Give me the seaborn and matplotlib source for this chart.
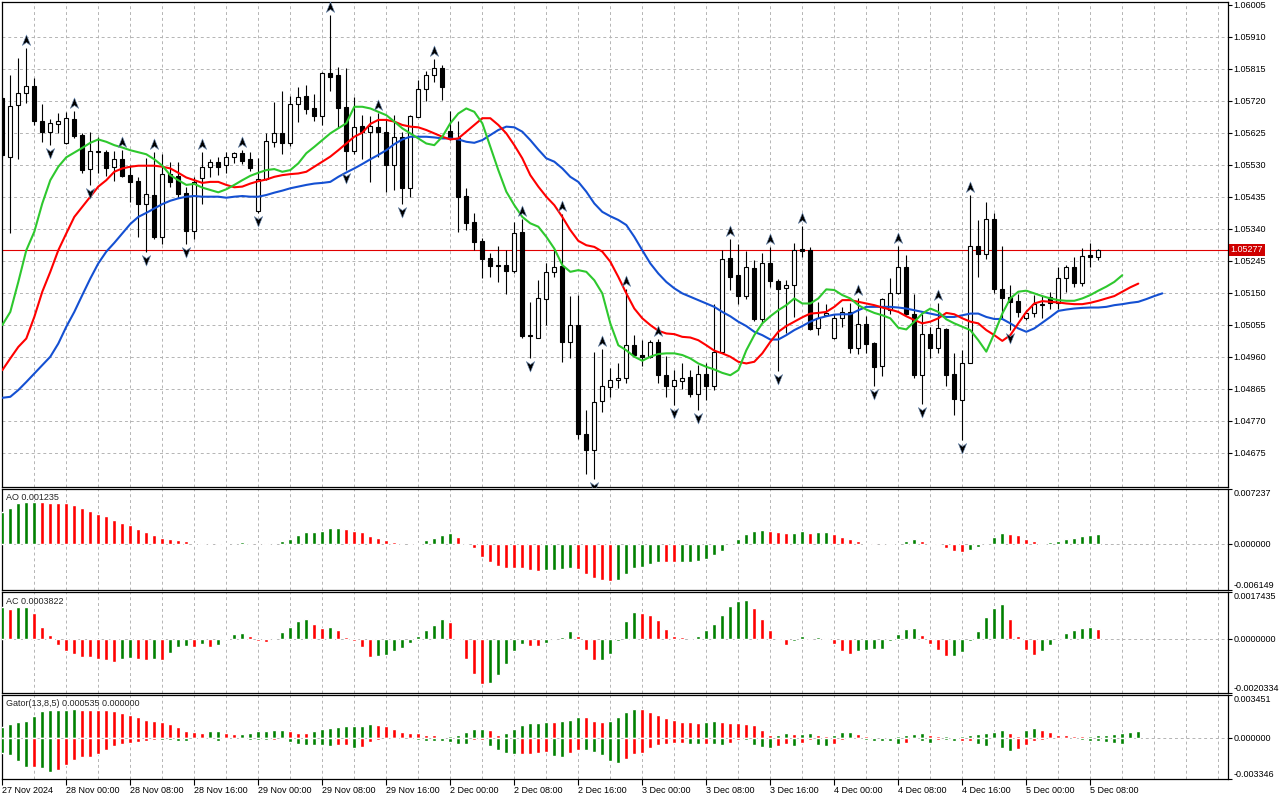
import numpy as np
import matplotlib
matplotlib.use("Agg")
import matplotlib.pyplot as plt
import matplotlib.transforms as mtransforms
from matplotlib.path import Path
import seaborn as sns

# ---- H1 candles, 27 Nov 16:00 .. 5 Dec 09:00 ----
open_ = [1.05727, 1.05554, 1.05706, 1.05742, 1.05764, 1.05660, 1.05626, 1.05650, 1.05595, 1.05666,
         1.05618, 1.05516, 1.05571, 1.05568, 1.05522, 1.05547, 1.05499, 1.05481, 1.05412, 1.05440,
         1.05316, 1.05502, 1.05496, 1.05447, 1.05334, 1.05491, 1.05522, 1.05537, 1.05528, 1.05552,
         1.05564, 1.05547, 1.05393, 1.05489, 1.05598, 1.05625, 1.05595, 1.05709, 1.05735, 1.05697,
         1.05675, 1.05802, 1.05796, 1.05700, 1.05572, 1.05645, 1.05626, 1.05643, 1.05627, 1.05529,
         1.05611, 1.05462, 1.05672, 1.05754, 1.05795, 1.05816, 1.05631, 1.05608, 1.05437, 1.05361,
         1.05303, 1.05254, 1.05232, 1.05232, 1.05215, 1.05329, 1.05024, 1.05017, 1.05130, 1.05212,
         1.05230, 1.05004, 1.05054, 1.04730, 1.04682, 1.04829, 1.04871, 1.04892, 1.04897, 1.04996,
         1.04964, 1.04960, 1.05004, 1.04907, 1.04874, 1.04888, 1.04900, 1.04849, 1.04910, 1.04874,
         1.04975, 1.05254, 1.05202, 1.05141, 1.05222, 1.05071, 1.05237, 1.05185, 1.05163, 1.05173,
         1.05279, 1.05277, 1.05044, 1.05085, 1.05017, 1.05074, 1.05093, 1.04987, 1.05057, 1.05001,
         1.04933, 1.05098, 1.05148, 1.05225, 1.05086, 1.04905, 1.05027, 1.04987, 1.05041, 1.04908,
         1.04831, 1.04940, 1.05288, 1.05265, 1.05368, 1.05161, 1.05136, 1.05125, 1.05074, 1.05090,
         1.05113, 1.05138, 1.05118, 1.05195, 1.05225, 1.05180, 1.05261, 1.05255]
high = [1.05732, 1.05796, 1.05846, 1.05875, 1.05786, 1.05710, 1.05666, 1.05682, 1.05687, 1.05689,
        1.05623, 1.05626, 1.05613, 1.05573, 1.05572, 1.05575, 1.05529, 1.05494, 1.05549, 1.05569,
        1.05562, 1.05539, 1.05537, 1.05465, 1.05494, 1.05569, 1.05546, 1.05552, 1.05569, 1.05569,
        1.05573, 1.05569, 1.05549, 1.05623, 1.05717, 1.05750, 1.05735, 1.05760, 1.05767, 1.05740,
        1.05806, 1.05974, 1.05819, 1.05816, 1.05730, 1.05677, 1.05674, 1.05682, 1.05665, 1.05677,
        1.05628, 1.05677, 1.05781, 1.05809, 1.05843, 1.05826, 1.05690, 1.05660, 1.05460, 1.05388,
        1.05311, 1.05267, 1.05288, 1.05278, 1.05361, 1.05368, 1.05123, 1.05187, 1.05237, 1.05281,
        1.05385, 1.05140, 1.05143, 1.04803, 1.04975, 1.04984, 1.04925, 1.04940, 1.05160, 1.05024,
        1.05011, 1.05011, 1.05014, 1.04962, 1.04920, 1.04940, 1.04920, 1.04935, 1.04942, 1.05116,
        1.05276, 1.05308, 1.05296, 1.05275, 1.05247, 1.05267, 1.05286, 1.05191, 1.05189, 1.05299,
        1.05348, 1.05286, 1.05123, 1.05116, 1.05088, 1.05108, 1.05118, 1.05133, 1.05080, 1.05004,
        1.05133, 1.05195, 1.05288, 1.05262, 1.05146, 1.05086, 1.05049, 1.05118, 1.05044, 1.04972,
        1.04981, 1.05440, 1.05366, 1.05420, 1.05387, 1.05288, 1.05173, 1.05146, 1.05098, 1.05143,
        1.05143, 1.05153, 1.05227, 1.05232, 1.05255, 1.05284, 1.05298, 1.05281]
low = [1.05554, 1.05328, 1.05547, 1.05712, 1.05648, 1.05598, 1.05588, 1.05623, 1.05591, 1.05608,
       1.05506, 1.05470, 1.05504, 1.05496, 1.05481, 1.05494, 1.05420, 1.05316, 1.05272, 1.05308,
       1.05294, 1.05465, 1.05430, 1.05296, 1.05308, 1.05413, 1.05494, 1.05499, 1.05504, 1.05534,
       1.05532, 1.05511, 1.05387, 1.05484, 1.05583, 1.05562, 1.05585, 1.05658, 1.05680, 1.05661,
       1.05648, 1.05750, 1.05638, 1.05514, 1.05562, 1.05546, 1.05479, 1.05552, 1.05450, 1.05455,
       1.05413, 1.05433, 1.05671, 1.05720, 1.05776, 1.05722, 1.05603, 1.05331, 1.05336, 1.05276,
       1.05194, 1.05197, 1.05182, 1.05146, 1.05209, 1.05017, 1.04955, 1.05017, 1.05054, 1.05197,
       1.04945, 1.04955, 1.04717, 1.04613, 1.04598, 1.04796, 1.04841, 1.04866, 1.04882, 1.04960,
       1.04932, 1.04955, 1.04882, 1.04839, 1.04816, 1.04863, 1.04841, 1.04803, 1.04831, 1.04861,
       1.04970, 1.05158, 1.05116, 1.05130, 1.05067, 1.05061, 1.05166, 1.04918, 1.05029, 1.05078,
       1.05257, 1.05039, 1.05024, 1.05080, 1.05014, 1.05049, 1.04970, 1.04968, 1.04972, 1.04873,
       1.04902, 1.05088, 1.05146, 1.05083, 1.04898, 1.04821, 1.04955, 1.04970, 1.04873, 1.04786,
       1.04712, 1.04940, 1.05197, 1.05249, 1.05148, 1.05074, 1.05039, 1.05078, 1.05069, 1.05077,
       1.05074, 1.05103, 1.05103, 1.05153, 1.05168, 1.05170, 1.05225, 1.05247]
close = [1.05559, 1.05704, 1.05742, 1.05764, 1.05661, 1.05626, 1.05653, 1.05659, 1.05668, 1.05616,
         1.05514, 1.05571, 1.05567, 1.05519, 1.05546, 1.05497, 1.05479, 1.05412, 1.05443, 1.05316,
         1.05502, 1.05479, 1.05443, 1.05334, 1.05479, 1.05522, 1.05537, 1.05524, 1.05552, 1.05564,
         1.05542, 1.05519, 1.05489, 1.05600, 1.05625, 1.05593, 1.05709, 1.05732, 1.05696, 1.05676,
         1.05801, 1.05791, 1.05697, 1.05572, 1.05643, 1.05626, 1.05645, 1.05626, 1.05529, 1.05611,
         1.05462, 1.05674, 1.05754, 1.05795, 1.05816, 1.05762, 1.05608, 1.05435, 1.05358, 1.05301,
         1.05249, 1.05229, 1.05230, 1.05215, 1.05326, 1.05021, 1.05021, 1.05133, 1.05212, 1.05227,
         1.05004, 1.05054, 1.04730, 1.04682, 1.04826, 1.04873, 1.04892, 1.04898, 1.04996, 1.04965,
         1.04958, 1.05004, 1.04907, 1.04873, 1.04890, 1.04898, 1.04849, 1.04910, 1.04874, 1.04975,
         1.05249, 1.05197, 1.05141, 1.05225, 1.05071, 1.05237, 1.05185, 1.05161, 1.05173, 1.05278,
         1.05274, 1.05041, 1.05074, 1.05090, 1.05074, 1.05093, 1.04987, 1.05057, 1.04999, 1.04930,
         1.05130, 1.05148, 1.05225, 1.05086, 1.04905, 1.05027, 1.04987, 1.05044, 1.04905, 1.04833,
         1.04940, 1.05288, 1.05265, 1.05368, 1.05160, 1.05135, 1.05123, 1.05093, 1.05091, 1.05116,
         1.05116, 1.05118, 1.05195, 1.05225, 1.05180, 1.05260, 1.05255, 1.05277]
last_price = 1.05277

# ---- Alligator (already shifted forward: lips 3, teeth 5, jaw 8 bars) ----
lips = [1.05054, 1.05093, 1.05182, 1.05276, 1.05331, 1.05415, 1.05484, 1.05524, 1.05552, 1.05566,
        1.05580, 1.05595, 1.05605, 1.05598, 1.05588, 1.05581, 1.05573, 1.05567, 1.05561, 1.05546,
        1.05527, 1.05499, 1.05484, 1.05470, 1.05473, 1.05462, 1.05455, 1.05448, 1.05457, 1.05470,
        1.05484, 1.05497, 1.05506, 1.05514, 1.05517, 1.05509, 1.05514, 1.05534, 1.05564, 1.05583,
        1.05603, 1.05623, 1.05638, 1.05653, 1.05702, 1.05702, 1.05697, 1.05687, 1.05677, 1.05658,
        1.05638, 1.05623, 1.05608, 1.05593, 1.05588, 1.05613, 1.05653, 1.05682, 1.05697, 1.05687,
        1.05653, 1.05583, 1.05514, 1.05450, 1.05410, 1.05375, 1.05356, 1.05346, 1.05316, 1.05281,
        1.05232, 1.05212, 1.05217, 1.05212, 1.05187, 1.05148, 1.05059, 1.04994, 1.04979, 1.04960,
        1.04948, 1.04960, 1.04968, 1.04970, 1.04970, 1.04965, 1.04955, 1.04940, 1.04930, 1.04922,
        1.04912, 1.04905, 1.04920, 1.04979, 1.05024, 1.05059, 1.05080, 1.05098, 1.05113, 1.05133,
        1.05118, 1.05118, 1.05133, 1.05160, 1.05158, 1.05143, 1.05133, 1.05113, 1.05100, 1.05090,
        1.05083, 1.05074, 1.05046, 1.05041, 1.05064, 1.05088, 1.05103, 1.05093, 1.05071, 1.05059,
        1.05049, 1.05039, 1.05009, 1.04975, 1.05029, 1.05088, 1.05133, 1.05153, 1.05156, 1.05148,
        1.05140, 1.05133, 1.05128, 1.05126, 1.05126, 1.05133, 1.05143, 1.05156, 1.05168, 1.05182,
        1.05202]
teeth = [1.04920, 1.04955, 1.04989, 1.05014, 1.05078, 1.05153, 1.05212, 1.05276, 1.05326, 1.05375,
         1.05405, 1.05435, 1.05465, 1.05484, 1.05509, 1.05519, 1.05524, 1.05527, 1.05527, 1.05527,
         1.05524, 1.05519, 1.05506, 1.05492, 1.05484, 1.05476, 1.05479, 1.05479, 1.05470, 1.05463,
         1.05465, 1.05474, 1.05481, 1.05486, 1.05494, 1.05499, 1.05502, 1.05504, 1.05509, 1.05524,
         1.05539, 1.05554, 1.05573, 1.05593, 1.05613, 1.05625, 1.05651, 1.05663, 1.05663, 1.05658,
         1.05648, 1.05643, 1.05641, 1.05633, 1.05623, 1.05613, 1.05605, 1.05608, 1.05628, 1.05648,
         1.05668, 1.05668, 1.05648, 1.05623, 1.05588, 1.05549, 1.05499, 1.05465, 1.05435, 1.05410,
         1.05375, 1.05336, 1.05304, 1.05291, 1.05286, 1.05272, 1.05242, 1.05197, 1.05148, 1.05103,
         1.05074, 1.05054, 1.05037, 1.05029, 1.05027, 1.05019, 1.05017, 1.05009, 1.04994, 1.04978,
         1.04970, 1.04960, 1.04945, 1.04940, 1.04945, 1.04970, 1.05004, 1.05034, 1.05051, 1.05064,
         1.05077, 1.05088, 1.05090, 1.05093, 1.05108, 1.05128, 1.05128, 1.05123, 1.05118, 1.05113,
         1.05106, 1.05100, 1.05093, 1.05080, 1.05069, 1.05059, 1.05064, 1.05074, 1.05090, 1.05086,
         1.05074, 1.05064, 1.05059, 1.05039, 1.05024, 1.05007, 1.05024, 1.05059, 1.05093, 1.05118,
         1.05125, 1.05123, 1.05121, 1.05118, 1.05116, 1.05116, 1.05120, 1.05126, 1.05133, 1.05140,
         1.05153, 1.05166, 1.05177]
jaw = [1.04838, 1.04841, 1.04861, 1.04885, 1.04910, 1.04935, 1.04960, 1.04999, 1.05049, 1.05093,
       1.05143, 1.05192, 1.05237, 1.05272, 1.05298, 1.05326, 1.05354, 1.05375, 1.05387, 1.05400,
       1.05413, 1.05423, 1.05430, 1.05435, 1.05437, 1.05435, 1.05435, 1.05435, 1.05432, 1.05435,
       1.05437, 1.05435, 1.05435, 1.05440, 1.05447, 1.05453, 1.05460, 1.05465, 1.05470, 1.05474,
       1.05476, 1.05479, 1.05494, 1.05507, 1.05519, 1.05532, 1.05546, 1.05559, 1.05573, 1.05591,
       1.05605, 1.05613, 1.05613, 1.05613, 1.05611, 1.05608, 1.05608, 1.05605, 1.05598, 1.05595,
       1.05603, 1.05618, 1.05633, 1.05643, 1.05641, 1.05628, 1.05603, 1.05575, 1.05549, 1.05539,
       1.05519, 1.05494, 1.05479, 1.05450, 1.05415, 1.05390, 1.05377, 1.05366, 1.05351, 1.05316,
       1.05276, 1.05237, 1.05207, 1.05182, 1.05163, 1.05148, 1.05138, 1.05128, 1.05118, 1.05108,
       1.05093, 1.05080, 1.05064, 1.05051, 1.05034, 1.05024, 1.05011, 1.05011, 1.05024, 1.05039,
       1.05051, 1.05064, 1.05074, 1.05080, 1.05085, 1.05086, 1.05086, 1.05098, 1.05108, 1.05108,
       1.05108, 1.05108, 1.05106, 1.05103, 1.05098, 1.05093, 1.05088, 1.05083, 1.05078, 1.05078,
       1.05083, 1.05088, 1.05088, 1.05078, 1.05072, 1.05072, 1.05059, 1.05044, 1.05034, 1.05044,
       1.05061, 1.05078, 1.05096, 1.05100, 1.05103, 1.05105, 1.05106, 1.05106, 1.05108, 1.05113,
       1.05116, 1.05120, 1.05123, 1.05131, 1.05140, 1.05148]

fractal_up = [3, 9, 15, 19, 25, 30, 41, 47, 54, 65, 70, 75, 78, 82, 91, 96, 100, 107, 112, 117, 121]
fractal_down = [6, 11, 18, 23, 32, 43, 50, 66, 74, 84, 87, 97, 109, 115, 120, 126]

# ---- Awesome Oscillator ----
ao = [0.004123, 0.004644, 0.005295, 0.005425, 0.005468, 0.00542, 0.005382, 0.00536, 0.005338, 0.005078,
      0.004731, 0.00434, 0.003949, 0.003559, 0.003038, 0.002647, 0.002387, 0.001953, 0.001476, 0.001085,
      0.000738, 0.000564, 0.000434, 0.000304, 0.000087, 0.000043, 0.000022, -0.00013, 0.000043, 0.00013,
      0.000174, 0.00013, 0.000043, 0.000022, 0.00013, 0.000304, 0.000608, 0.001085, 0.001476, 0.001519,
      0.001649, 0.001996, 0.00204, 0.001866, 0.001693, 0.001519, 0.000955, 0.000738, 0.000434, 0.000174,
      0.000043, 0.000022, 0.000043, 0.000434, 0.000781, 0.001172, 0.001345, 0.000825, 0.00013, -0.000651,
      -0.001736, -0.002387, -0.002908, -0.003168, -0.003212, -0.003255, -0.003472, -0.003559, -0.003515, -0.003472,
      -0.003385, -0.003168, -0.003342, -0.003949, -0.00447, -0.004774, -0.004904, -0.004774, -0.003993, -0.003255,
      -0.003081, -0.002691, -0.002387, -0.00243, -0.002474, -0.00243, -0.002387, -0.002257, -0.001996, -0.001476,
      -0.000955, -0.00013, 0.000564, 0.001215, 0.001649, 0.001779, 0.001693, 0.001519, 0.001389, 0.001432,
      0.001649, 0.001345, 0.001476, 0.001519, 0.001215, 0.000825, 0.000564, 0.000304, 0.00013, 0.000043,
      -0.000217, -0.000087, 0.00013, 0.000391, 0.000564, 0.000391, 0.00013, -0.000174, -0.000564, -0.000955,
      -0.001085, -0.000825, -0.000477, 0.00013, 0.000825, 0.001432, 0.001302, 0.001085, 0.000564, 0.000304,
      0.00013, 0.000174, 0.000304, 0.000564, 0.000738, 0.000955, 0.001172, 0.001235]

# ---- Accelerator Oscillator ----
ac = [0.001185, 0.001135, 0.001197, 0.00121, 0.000985, 0.000461, 0.000162, -0.000212, -0.000461, -0.000549,
      -0.000661, -0.000673, -0.000736, -0.000773, -0.000873, -0.000761, -0.000723, -0.000736, -0.000798, -0.000761,
      -0.000773, -0.000536, -0.000312, -0.000274, -0.000312, -0.0002, -0.000287, -0.000237, 0.000037, 0.0002,
      0.000212, 0.000125, -0.000087, -0.0001, 0.000037, 0.000249, 0.000436, 0.000686, 0.000761, 0.000574,
      0.000424, 0.000461, 0.000324, 0.000087, -0.000062, -0.000287, -0.000661, -0.000648, -0.000586, -0.000461,
      -0.000337, -0.00015, 0.0001, 0.000324, 0.000536, 0.000761, 0.000624, -0.000012, -0.000736, -0.001297,
      -0.001671, -0.001634, -0.001334, -0.000923, -0.000436, -0.000175, -0.000249, -0.000262, -0.000137, -0.000037,
      0.000087, 0.000287, 0.000125, -0.000399, -0.000798, -0.000786, -0.000549, -0.000087, 0.000686, 0.001023,
      0.000985, 0.00091, 0.000723, 0.000387, 0.000125, 0.000087, 0.00005, 0.000125, 0.000324, 0.000574,
      0.00091, 0.001247, 0.001434, 0.001447, 0.001172, 0.000761, 0.000349, -0.00005, -0.000212, -0.000087,
      0.000125, -0.000025, 0.000087, 0.000037, -0.000175, -0.000461, -0.000549, -0.000461, -0.000424, -0.000374,
      -0.000362, -0.000087, 0.0002, 0.000387, 0.000411, 0.000162, -0.000175, -0.000424, -0.000648, -0.000636,
      -0.000499, -0.000087, 0.000312, 0.000823, 0.00116, 0.001322, 0.000761, 0.000125, -0.000424, -0.000611,
      -0.000461, -0.000237, -0.000012, 0.000237, 0.000349, 0.000411, 0.000461, 0.0003822]

# ---- Gator oscillator (upper |jaw-teeth|, lower |teeth-lips|) ----
gator_up = [0.000851, 0.001144, 0.00125, 0.001383, 0.001729, 0.002181, 0.002234, 0.002261, 0.002274, 0.002288,
            0.002248, 0.002234, 0.002221, 0.002208, 0.002128, 0.001995, 0.001809, 0.001649, 0.001463, 0.001383,
            0.00125, 0.001064, 0.000851, 0.000532, 0.000452, 0.000399, 0.000505, 0.000519, 0.000399, 0.000266,
            0.000319, 0.000399, 0.000505, 0.000519, 0.000585, 0.000599, 0.000505, 0.000399, 0.000386, 0.000505,
            0.000665, 0.000798, 0.000851, 0.000904, 0.000918, 0.000931, 0.001064, 0.001051, 0.000904, 0.000665,
            0.000479, 0.000372, 0.000346, 0.000213, 0.0002, 0.00008, 0.000133, 0.000213, 0.000452, 0.000692,
            0.000718, 0.000585, 0.000186, 0.000372, 0.000665, 0.001011, 0.00117, 0.001224, 0.001277, 0.00125,
            0.00133, 0.001463, 0.001649, 0.001636, 0.00133, 0.001303, 0.001383, 0.001649, 0.002101, 0.002314,
            0.002301, 0.002048, 0.001862, 0.001623, 0.001463, 0.001303, 0.00129, 0.001224, 0.001303, 0.001317,
            0.001303, 0.001224, 0.00121, 0.001144, 0.001011, 0.000585, 0.000213, 0.000226, 0.000372, 0.000266,
            0.000279, 0.000372, 0.000186, 0.000133, 0.000229, 0.000479, 0.000492, 0.000266, 0.000106, 0.000053,
            0.000027, 0.00008, 0.000133, 0.000229, 0.000293, 0.000346, 0.000247, 0.000098, 0.00012, 0.00008,
            0.000098, 0.000247, 0.000293, 0.000399, 0.000479, 0.000638, 0.000346, 0.000149, 0.000585, 0.000745,
            0.000638, 0.000452, 0.000247, 0.000178, 0.000128, 0.000106, 0.000138, 0.000197, 0.000247, 0.000266,
            0.000367, 0.000452, 0.000535]
gator_down = [0.001233, 0.00137, 0.001863, 0.002411, 0.002384, 0.002439, 0.00274, 0.002603, 0.002192, 0.001781,
              0.001589, 0.001562, 0.001315, 0.001014, 0.000685, 0.000548, 0.000411, 0.000329, 0.000274, 0.000164,
              0.000192, 0.000219, 0.000233, 0.000247, 0.000027, 0.000055, 0.000137, 0.000274, 0.000137, 0.000055,
              0.000082, 0.000192, 0.000206, 0.000219, 0.000192, 0.000055, 0.000356, 0.000548, 0.000562, 0.000575,
              0.00063, 0.000685, 0.000603, 0.000589, 0.000877, 0.000767, 0.000356, 0.000192, 0.000055, 0.000027,
              0.000014, 0.000137, 0.000192, 0.000274, 0.000288, 0.000301, 0.000356, 0.000493, 0.000548, 0.000192,
              0.000178, 0.000685, 0.000959, 0.001206, 0.001315, 0.001302, 0.001288, 0.001233, 0.001178, 0.001507,
              0.001589, 0.00126, 0.000959, 0.001014, 0.001178, 0.001397, 0.001918, 0.002082, 0.001699, 0.001315,
              0.001233, 0.000877, 0.000603, 0.000548, 0.000466, 0.000452, 0.000493, 0.000548, 0.000534, 0.000548,
              0.000575, 0.000466, 0.000164, 0.000219, 0.000603, 0.000767, 0.000822, 0.000658, 0.000548, 0.000685,
              0.000411, 0.000219, 0.00063, 0.000685, 0.00051, 0.000153, 0.000052, 0.000101, 0.000184, 0.000236,
              0.000238, 0.000274, 0.00049, 0.000411, 0.000052, 0.000301, 0.000411, 0.000203, 0.000206, 0.000285,
              0.000255, 0.000252, 0.00051, 0.000658, 0.000052, 0.000836, 0.001041, 0.000904, 0.00063, 0.000301,
              0.000153, 0.000101, 0.000071, 0.000082, 0.000101, 0.000173, 0.000236, 0.000301, 0.000356, 0.000438,
              0.00051]

time_labels = ["27 Nov 2024", "28 Nov 00:00", "28 Nov 08:00", "28 Nov 16:00", "29 Nov 00:00",
               "29 Nov 08:00", "29 Nov 16:00", "2 Dec 00:00", "2 Dec 08:00", "2 Dec 16:00",
               "3 Dec 00:00", "3 Dec 08:00", "3 Dec 16:00", "4 Dec 00:00", "4 Dec 08:00",
               "4 Dec 16:00", "5 Dec 00:00", "5 Dec 08:00"]

price_ticks = [1.06005, 1.05910, 1.05815, 1.05720, 1.05625, 1.05530, 1.05435, 1.05340,
               1.05245, 1.05150, 1.05055, 1.04960, 1.04865, 1.04770, 1.04675]

# ---------------------------------------------------------------------------
sns.set_style("white")
plt.rcParams['font.family'] = ['Liberation Sans', 'DejaVu Sans']
plt.rcParams['font.size'] = 6.5

GREEN = '#008000'
RED = '#ff0000'
GRID = '#b4b4b4'
DASH = (0, (3, 3))
W, H = 1280, 800
XMAX = (1227.5 - 2.3) / 8.0

fig = plt.figure(figsize=(W / 100, H / 100), dpi=100)
fig.patch.set_facecolor('white')


def px_axes(top, bottom, left=2.3, right=1227.5):
    return fig.add_axes([left / W, 1 - bottom / H, (right - left) / W, (bottom - top) / H])


ax_main = px_axes(2, 486.5)
ax_ao = px_axes(488.5, 590.3)
ax_ac = px_axes(592.3, 693.3)
ax_gt = px_axes(695, 779)

for ax in (ax_main, ax_ao, ax_ac, ax_gt):
    ax.set_facecolor('white')
    ax.set_xlim(0, XMAX)
    for sp in ax.spines.values():
        sp.set_color('black')
        sp.set_linewidth(0.9)
    for g in range(4, int(XMAX) + 1, 4):
        ax.axvline(g, color=GRID, ls=DASH, lw=0.7, zorder=0)
    ax.yaxis.tick_right()
    ax.tick_params(axis='y', which='both', left=False, right=True, direction='out',
                   length=3, width=0.8, pad=1.5, labelsize=6.5, colors='black')
    ax.set_xticks([])

# ---- main price panel ----
x = np.arange(len(close))
o = np.array(open_)
c = np.array(close)
hi = np.array(high)
lo = np.array(low)
bull = c >= o

ax_main.set_ylim(1.045747, 1.06013)
for p in price_ticks[1:]:
    ax_main.axhline(p, color=GRID, ls=DASH, lw=0.7, zorder=0)
ax_main.set_yticks(price_ticks)
ax_main.set_yticklabels(["%.5f" % p for p in price_ticks])

ax_main.axhline(last_price, color='#e00000', lw=0.8, zorder=2)

ax_main.vlines(x, lo, hi, color='black', lw=0.8, zorder=3)
ax_main.bar(x, np.abs(c - o), bottom=np.minimum(o, c), width=0.52,
            color=np.where(bull, 'white', 'black'), edgecolor='black', linewidth=0.8, zorder=4)

sns.lineplot(x=np.arange(len(jaw)), y=jaw, ax=ax_main, color='#1450d2', linewidth=1.5, zorder=5)
sns.lineplot(x=np.arange(len(teeth)), y=teeth, ax=ax_main, color='#ff0000', linewidth=1.5, zorder=6)
sns.lineplot(x=np.arange(len(lips)), y=lips, ax=ax_main, color='#2ec82e', linewidth=1.5, zorder=7)
ax_main.set_xlim(0, XMAX)
ax_main.set_xlabel('')
ax_main.set_ylabel('')

up_path = Path([(0, 1), (0.75, -0.9), (0, -0.35), (-0.75, -0.9), (0, 1)],
               [Path.MOVETO, Path.LINETO, Path.LINETO, Path.LINETO, Path.CLOSEPOLY])
dn_path = Path([(0, -1), (0.75, 0.9), (0, 0.35), (-0.75, 0.9), (0, -1)],
               [Path.MOVETO, Path.LINETO, Path.LINETO, Path.LINETO, Path.CLOSEPOLY])
tr_up = mtransforms.offset_copy(ax_main.transData, fig=fig, y=8, units='dots')
tr_dn = mtransforms.offset_copy(ax_main.transData, fig=fig, y=-8, units='dots')
ax_main.plot(fractal_up, hi[fractal_up], ls='none', marker=up_path, ms=8, mfc='black',
             mec='#6f8fb8', mew=0.4, transform=tr_up, zorder=8)
ax_main.plot(fractal_down, lo[fractal_down], ls='none', marker=dn_path, ms=8, mfc='black',
             mec='#6f8fb8', mew=0.4, transform=tr_dn, zorder=8)

lbl_tr = mtransforms.offset_copy(
    mtransforms.blended_transform_factory(ax_main.transAxes, ax_main.transData),
    fig=fig, x=3, units='dots')
ax_main.text(1.0, last_price, "%.5f" % last_price, transform=lbl_tr, ha='left', va='center',
             color='white', fontsize=6.5, clip_on=False, zorder=10,
             bbox=dict(boxstyle='square,pad=0.18', fc='#d00000', ec='none'))


# ---- oscillators ----
def updown_colors(vals):
    cols, prev, cur = [], None, GREEN
    for v in vals:
        if prev is not None:
            if v > prev:
                cur = GREEN
            elif v < prev:
                cur = RED
        cols.append(cur)
        prev = v
    return cols


def sub_axis(ax, top, bottom, fmt):
    ax.set_ylim(bottom, top)
    ax.axhline(0, color=GRID, ls=DASH, lw=0.7, zorder=0)
    ax.set_yticks([bottom, 0, top])
    ax.set_yticklabels([fmt % bottom, fmt % 0, fmt % top])
    labs = ax.get_yticklabels()
    labs[0].set_va('bottom')
    labs[2].set_va('top')


ax_ao.bar(np.arange(len(ao)), ao, width=0.5, color=updown_colors(ao), zorder=3)
sub_axis(ax_ao, 0.007237, -0.006149, "%.6f")

ax_ac.bar(np.arange(len(ac)), ac, width=0.5, color=updown_colors(ac), zorder=3)
sub_axis(ax_ac, 0.0017435, -0.0020334, "%.7f")

ax_gt.bar(np.arange(len(gator_up)), gator_up, width=0.5, color=updown_colors(gator_up), zorder=3)
ax_gt.bar(np.arange(len(gator_down)), -np.array(gator_down), width=0.5,
          color=updown_colors(gator_down), zorder=3)
sub_axis(ax_gt, 0.003451, -0.003346, "%.6f")

ax_gt.set_xticks(np.arange(0, 8 * len(time_labels), 8))
ax_gt.set_xticklabels(time_labels, ha='left')
ax_gt.tick_params(axis='x', bottom=True, direction='out', length=4, width=0.8, pad=1,
                  labelsize=6.5, colors='black')

fig.text(6 / W, 1 - 497 / H, "AO 0.001235", ha='left', va='center', fontsize=6.5)
fig.text(6 / W, 1 - 601.5 / H, "AC 0.0003822", ha='left', va='center', fontsize=6.5)
fig.text(6 / W, 1 - 704 / H, "Gator(13,8,5) 0.000535 0.000000", ha='left', va='center', fontsize=6.5)

fig.savefig("out.png", dpi=100, facecolor='white')
